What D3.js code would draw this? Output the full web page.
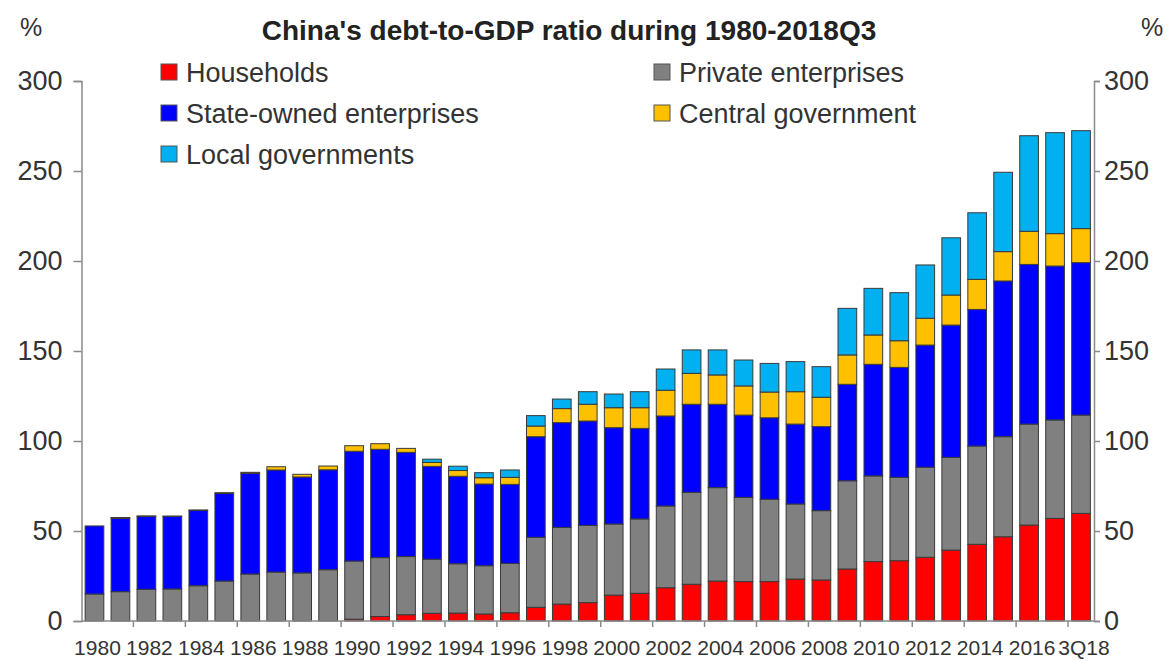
<!DOCTYPE html>
<html>
<head>
<meta charset="utf-8">
<script src="https://cdn.jsdelivr.net/npm/d3@7"></script>
<style>
  html, body { margin: 0; padding: 0; background: #fff; }
  svg { display: block; font-family: "Liberation Sans", Arial, sans-serif; }
</style>
</head>
<body>
<svg id="chart" width="1167" height="661"></svg>
<script>
// Debt by sector, % of GDP
const categories = ["1980","1981","1982","1983","1984","1985","1986","1987","1988","1989",
  "1990","1991","1992","1993","1994","1995","1996","1997","1998","1999",
  "2000","2001","2002","2003","2004","2005","2006","2007","2008","2009",
  "2010","2011","2012","2013","2014","2015","2016","2017","3Q18"];

const households = [0,0,0,0,0,0,0,0,0,0,
  1.0,2.5,3.5,4.3,4.4,3.9,4.6,7.6,9.4,10.2,
  14.4,15.4,18.5,20.4,22.2,21.9,21.9,23.3,22.8,28.9,
  33.0,33.5,35.4,39.4,42.6,46.8,53.3,57.0,59.8];

const privateEnt = [15.0,16.3,17.6,17.8,19.6,22.2,26.1,27.2,26.7,28.5,
  32.3,32.7,32.3,30.0,27.4,26.8,27.4,38.9,42.6,42.9,
  39.5,41.3,45.4,51.1,51.9,46.8,45.7,41.7,38.5,49.0,
  47.6,46.3,50.0,51.5,54.6,55.6,56.1,54.7,54.6];

const stateOwned = [37.8,40.7,40.5,40.3,41.8,48.6,55.9,56.7,53.3,55.5,
  61.0,60.2,57.9,51.6,48.6,45.4,43.9,55.9,58.2,58.0,
  53.5,50.3,50.0,48.9,46.3,45.7,45.3,44.4,46.7,53.6,
  62.0,61.1,67.9,73.5,75.9,86.5,88.7,85.5,84.7];

const centralGov = [0,0.5,0.3,0.2,0.3,0.5,0.6,1.8,1.5,2.1,
  3.1,3.1,2.2,2.2,3.2,3.5,3.9,5.9,7.8,9.3,
  11.1,11.5,14.3,17.2,16.3,16.2,14.3,18.0,16.3,16.3,
  16.3,14.8,14.9,16.7,16.7,16.3,18.4,18.0,18.9];

const localGov = [0,0,0,0,0,0,0,0,0,0,
  0,0,0,1.8,2.4,2.8,4.1,5.8,5.3,7.0,
  7.6,8.9,11.8,13.0,13.9,14.4,15.9,16.7,17.0,25.9,
  25.9,26.7,29.6,31.8,37.0,44.1,53.1,56.1,54.4];

const seriesNames = ["Households","Private enterprises","State-owned enterprises","Central government","Local governments"];
const seriesColors = ["#ff0000","#808080","#0000ff","#ffc000","#00b0f0"];
const yTicks = [0,50,100,150,200,250,300];

const svg = d3.select("#chart");
const plotLeft = 81.5, plotRight = 1094, plotTop = 81, plotBottom = 621;

const x = d3.scaleBand().domain(categories).range([plotLeft, plotRight]).paddingInner(0.28).paddingOuter(0.14);
const y = d3.scaleLinear().domain([0, 300]).range([plotBottom, plotTop]);

// stacked table
const keys = ["hh","pe","soe","cg","lg"];
const rows = categories.map((c, i) => ({
  cat: c, hh: households[i], pe: privateEnt[i], soe: stateOwned[i], cg: centralGov[i], lg: localGov[i]
}));
const stacked = d3.stack().keys(keys)(rows);
const color = d3.scaleOrdinal().domain(keys).range(seriesColors);

// bars
svg.append("g").selectAll("g").data(stacked).join("g")
  .attr("fill", d => color(d.key))
  .selectAll("rect").data(d => d.filter(s => s[1] - s[0] > 0)).join("rect")
  .attr("x", d => x(d.data.cat))
  .attr("width", x.bandwidth())
  .attr("y", d => y(d[1]))
  .attr("height", d => y(d[0]) - y(d[1]))
  .attr("stroke", "#3a3a3a")
  .attr("stroke-width", 1);

const axisColor = "#8a8a8a";

// left axis
const yl = svg.append("g").attr("transform", `translate(${plotLeft},0)`)
  .call(d3.axisLeft(y).tickValues(yTicks).tickSize(8).tickPadding(11));
// right axis
const yr = svg.append("g").attr("transform", `translate(${plotRight},0)`)
  .call(d3.axisRight(y).tickValues(yTicks).tickSize(6).tickPadding(4));
[yl, yr].forEach(g => {
  g.select(".domain").attr("stroke", axisColor).attr("stroke-width", 1.5);
  g.selectAll(".tick line").attr("stroke", axisColor).attr("stroke-width", 1.5);
  g.selectAll(".tick text").attr("fill", "#333").attr("font-size", 27)
    .attr("font-family", "Liberation Sans, Arial, sans-serif");
});

// x axis: line, tick marks on every other band boundary, labels on even categories
const xg = svg.append("g");
xg.append("line").attr("x1", plotLeft).attr("x2", plotRight).attr("y1", plotBottom).attr("y2", plotBottom)
  .attr("stroke", axisColor).attr("stroke-width", 1.5);
const evenCats = categories.filter((c, i) => i % 2 === 0);
const step = x.step();
xg.selectAll("line.tk").data(evenCats.slice(1)).join("line").attr("class", "tk")
  .attr("x1", d => x(d) - step * x.paddingInner() / 2)
  .attr("x2", d => x(d) - step * x.paddingInner() / 2)
  .attr("y1", plotBottom).attr("y2", plotBottom + 6)
  .attr("stroke", axisColor).attr("stroke-width", 1.5);
const xa = svg.append("g").attr("transform", `translate(3,${plotBottom})`)
  .call(d3.axisBottom(x).tickValues(evenCats).tickSize(0).tickPadding(19));
xa.select(".domain").remove();
xa.selectAll(".tick text").attr("fill", "#333").attr("font-size", 21)
  .attr("font-family", "Liberation Sans, Arial, sans-serif");

// unit labels
svg.append("text").attr("x", 20).attr("y", 36).attr("font-size", 25).attr("fill", "#333").text("%");
svg.append("text").attr("x", 1141).attr("y", 36).attr("font-size", 25).attr("fill", "#333").text("%");

// title
svg.append("text").attr("x", 569).attr("y", 40).attr("text-anchor", "middle")
  .attr("font-size", 28).attr("font-weight", "bold").attr("fill", "#222")
  .text("China's debt-to-GDP ratio during 1980-2018Q3");

// legend
const legendPos = [
  {col: 0, row: 0}, {col: 1, row: 0}, {col: 0, row: 1}, {col: 1, row: 1}, {col: 0, row: 2}
];
const colX = [161, 654], rowY = [72, 113, 154];
const lg = svg.append("g").selectAll("g").data(seriesNames).join("g")
  .attr("transform", (d, i) => `translate(${colX[legendPos[i].col]},${rowY[legendPos[i].row]})`);
lg.append("rect").attr("x", 0).attr("y", -8).attr("width", 16).attr("height", 16)
  .attr("fill", (d, i) => seriesColors[i]).attr("stroke", "#555").attr("stroke-width", 1);
lg.append("text").attr("x", 25).attr("y", 10).attr("font-size", 27).attr("fill", "#333").text(d => d);
</script>
</body>
</html>
